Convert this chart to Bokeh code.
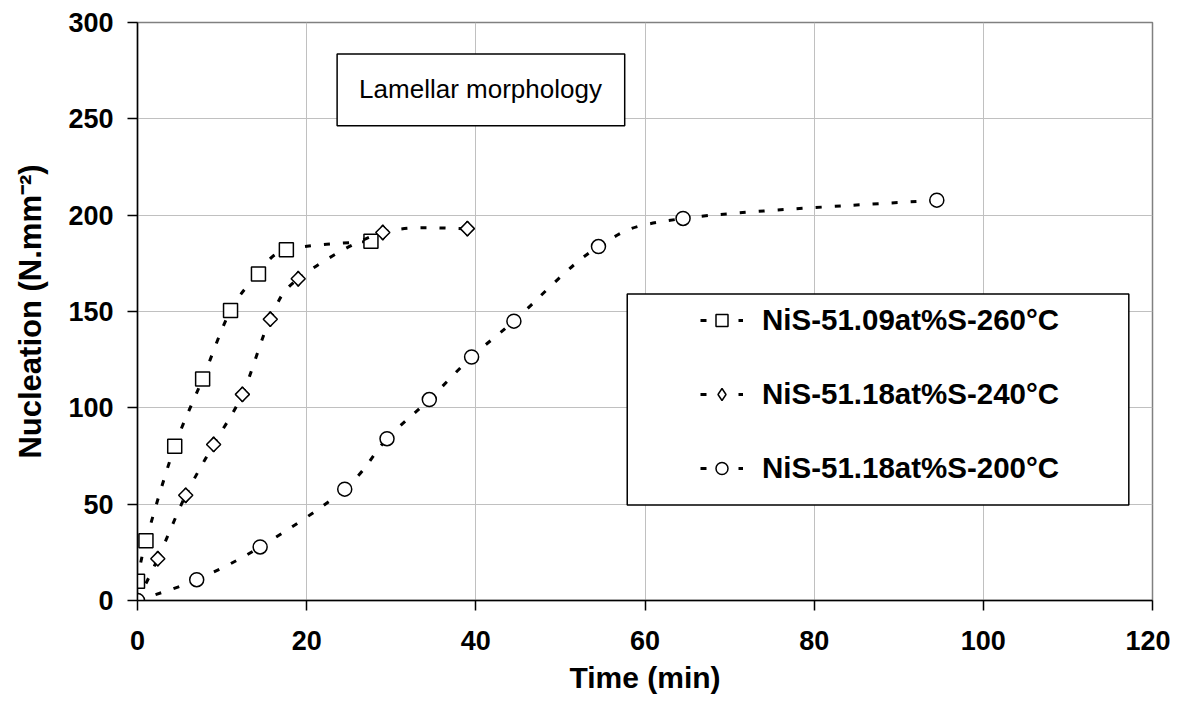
import numpy as np
from bokeh.plotting import figure
from bokeh.models import Legend, LegendItem, BoxAnnotation, Label, FixedTicker, Range1d
from bokeh.embed import file_html
from bokeh.resources import INLINE

# ---- data ----
t_260 = [0, 1.0, 4.4, 7.7, 11.0, 14.3, 17.6, 27.6]
n_260 = [10, 31, 80, 115, 150.5, 169.5, 182, 186.5]

t_240 = [0, 2.4, 5.7, 9.0, 12.4, 15.7, 19.0, 29.0, 39.0]
n_240 = [0, 21.7, 54.6, 81, 107, 146, 167, 191, 193]

t_200 = [0, 7.0, 14.5, 24.5, 29.5, 34.5, 39.5, 44.5, 54.5, 64.5, 94.5]
n_200 = [0, 10.8, 27.8, 57.8, 84, 104.3, 126.4, 145, 183.7, 198.3, 207.8]

labels = ["NiS-51.09at%S-260\u00b0C", "NiS-51.18at%S-240\u00b0C", "NiS-51.18at%S-200\u00b0C"]
x_ticks = [0, 20, 40, 60, 80, 100, 120]
y_ticks = [0, 50, 100, 150, 200, 250, 300]
x_title = "Time (min)"
y_title = "Nucleation (N.mm\u207b\u00b2)"

FONT = "Liberation Sans"

p = figure(width=1170, height=704, output_backend="svg", toolbar_location=None,
           x_range=Range1d(0, 120), y_range=Range1d(0, 300),
           min_border_left=137, min_border_right=18, min_border_top=22, min_border_bottom=104)

p.background_fill_color = "white"
p.border_fill_color = "white"
p.outline_line_color = "#808080"
p.outline_line_width = 1.5

for ax in (p.xaxis[0], p.yaxis[0]):
    ax.axis_line_color = "black"
    ax.axis_line_width = 1.5
    ax.major_tick_line_color = "black"
    ax.major_tick_line_width = 1.5
    ax.major_tick_out = 10
    ax.major_tick_in = 0
    ax.minor_tick_line_color = None
    ax.major_label_text_font = FONT
    ax.major_label_text_font_style = "bold"
    ax.major_label_text_font_size = "27px"
    ax.major_label_text_color = "black"
    ax.axis_label_text_font = FONT
    ax.axis_label_text_font_style = "bold"
    ax.axis_label_text_color = "black"

p.xaxis.ticker = FixedTicker(ticks=x_ticks)
p.yaxis.ticker = FixedTicker(ticks=y_ticks)
p.xaxis.major_label_standoff = 20
p.yaxis.major_label_standoff = 14
p.xaxis.axis_label = x_title
p.xaxis.axis_label_text_font_size = "30px"
p.xaxis.axis_label_standoff = 8
p.yaxis.axis_label = y_title
p.yaxis.axis_label_text_font_size = "31px"
p.yaxis.axis_label_standoff = 17

p.xgrid.ticker = FixedTicker(ticks=x_ticks)
p.ygrid.ticker = FixedTicker(ticks=y_ticks)
p.grid.grid_line_color = "#c0c0c0"
p.grid.grid_line_width = 1


def smooth_segments(xs, ys):
    """Catmull-Rom style smoothing (as Excel's smoothed line) between given data points."""
    x = np.asarray(xs, float)
    y = np.asarray(ys, float)
    n = len(x)
    xp = np.concatenate([[x[0]], x, [x[-1]]])
    yp = np.concatenate([[y[0]], y, [y[-1]]])
    x0, y0 = x[:-1], y[:-1]
    x1, y1 = x[1:], y[1:]
    cx0 = x0 + (xp[2:n + 1] - xp[0:n - 1]) / 6.0
    cy0 = y0 + (yp[2:n + 1] - yp[0:n - 1]) / 6.0
    cx1 = x1 - (xp[3:n + 2] - xp[1:n]) / 6.0
    cy1 = y1 - (yp[3:n + 2] - yp[1:n]) / 6.0
    return dict(x0=x0, y0=y0, x1=x1, y1=y1, cx0=cx0, cy0=cy0, cx1=cx1, cy1=cy1)


line_style = dict(line_color="black", line_width=3, line_dash="6 13")
marker_style = dict(fill_color="white", line_color="black", line_width=1.5)

items = []

# 260 °C series: squares
bz = p.bezier(**smooth_segments(t_260, n_260), **line_style)
sc = p.scatter(t_260, n_260, marker="square", size=14, **marker_style)
items.append(LegendItem(label=labels[0], renderers=[bz, sc]))

# 240 °C series: diamonds (legend uses the plain diamond marker, hidden under the rotated squares)
bz = p.bezier(**smooth_segments(t_240, n_240), **line_style)
sc_leg = p.scatter(t_240, n_240, marker="diamond", size=15, **marker_style)
p.scatter(t_240, n_240, marker="square", size=10, angle=np.pi / 4, **marker_style)
items.append(LegendItem(label=labels[1], renderers=[bz, sc_leg]))

# 200 °C series: circles
bz = p.bezier(**smooth_segments(t_200, n_200), **line_style)
sc = p.scatter(t_200, n_200, marker="circle", size=14, **marker_style)
items.append(LegendItem(label=labels[2], renderers=[bz, sc]))

# Legend frame box
p.add_layout(BoxAnnotation(left=57.9, right=117.2, bottom=49.6, top=159.1,
                           fill_color="white", fill_alpha=1.0,
                           line_color="black", line_width=1.5, line_alpha=1.0))

legend = Legend(items=items, location=(563, 115), padding=0, margin=0, spacing=40,
                glyph_width=43, glyph_height=30, label_height=30, label_standoff=19,
                label_text_font=FONT, label_text_font_style="bold", label_text_font_size="29.5px",
                label_text_color="black", border_line_alpha=0, background_fill_alpha=0)
p.add_layout(legend)

# Annotation box "Lamellar morphology"
p.add_layout(BoxAnnotation(left=23.6, right=57.6, bottom=246.4, top=283.7,
                           fill_color="white", fill_alpha=1.0,
                           line_color="black", line_width=1.5, line_alpha=1.0))
p.add_layout(Label(x=26.2, y=265.6, text="Lamellar morphology", text_font=FONT,
                   text_font_size="26px", text_color="black", text_baseline="alphabetic"))

open("out.html", "w").write(file_html(p, INLINE))
